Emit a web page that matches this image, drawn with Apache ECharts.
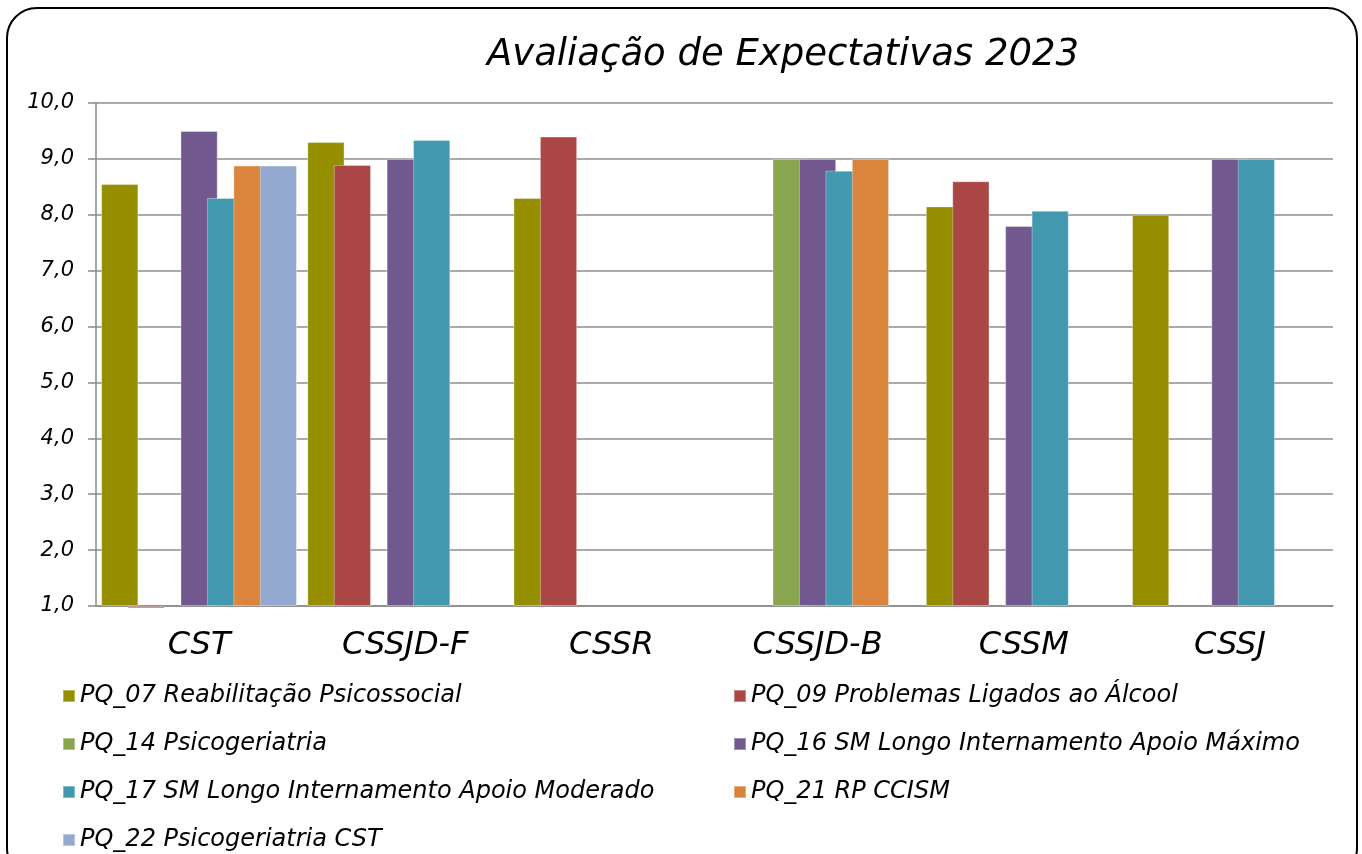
<!DOCTYPE html>
<html>
<head>
<meta charset="utf-8">
<script src="https://cdn.jsdelivr.net/npm/echarts@6/dist/echarts.min.js"></script>
<style>
  html, body { margin: 0; padding: 0; background: #fff; }
  #chart { width: 1362px; height: 854px; }
</style>
</head>
<body>
<div id="chart"></div>
<script>
// categorias e valores
var categorias = ['CST', 'CSSJD-F', 'CSSR', 'CSSJD-B', 'CSSM', 'CSSJ'];
var nomes = [
    'PQ_07 Reabilitação Psicossocial',
    'PQ_09 Problemas Ligados ao Álcool',
    'PQ_14 Psicogeriatria',
    'PQ_16 SM Longo Internamento Apoio Máximo',
    'PQ_17 SM Longo Internamento Apoio Moderado',
    'PQ_21 RP CCISM',
    'PQ_22 Psicogeriatria CST'
];
var pq07 = [8.55, 9.30, 8.30, '-', 8.15, 8.00];
var pq09 = [0.96, 8.89, 9.40, '-', 8.60, '-'];
var pq14 = ['-', '-', '-', 9.00, '-', '-'];
var pq16 = [9.50, 9.00, '-', 9.00, 7.80, 9.00];
var pq17 = [8.30, 9.34, '-', 8.79, 8.07, 9.00];
var pq21 = [8.88, '-', '-', 9.00, '-', '-'];
var pq22 = [8.88, '-', '-', '-', '-', '-'];
var cores = ['#958F00', '#AA4643', '#89A54E', '#71588F', '#4198AF', '#DB843D', '#93A9CF'];
var valores = [pq07, pq09, pq14, pq16, pq17, pq21, pq22];

var fonte = '"DejaVu Sans", sans-serif';

var myChart = echarts.init(document.getElementById('chart'));

let series = [];
for (let i = 0; i < nomes.length; i++) {
    series.push({
        name: nomes[i],
        type: 'bar',
        data: valores[i],
        clip: false,
        barGap: '-29%',
        barCategoryGap: '5%',
        itemStyle: {
            color: cores[i],
            borderColor: 'rgba(255,255,255,0.35)',
            borderWidth: 1
        }
    });
}

var legendaTexto = {
    fontFamily: fonte,
    fontStyle: 'italic',
    fontSize: 24,
    color: '#000',
    lineHeight: 24
};

var option = {
    animation: false,
    title: {
        text: 'Avaliação de Expectativas 2023',
        left: 778,
        textAlign: 'center',
        top: 32,
        textStyle: {
            fontFamily: fonte,
            fontStyle: 'italic',
            fontWeight: 'normal',
            fontSize: 37,
            color: '#000'
        }
    },
    legend: [{
        orient: 'vertical',
        left: 62,
        top: 684,
        height: 200,
        padding: 0,
        itemWidth: 12,
        itemHeight: 12,
        itemGap: 24,
        icon: 'rect',
        data: [nomes[0], nomes[2], nomes[4], nomes[6]],
        textStyle: legendaTexto
    }, {
        orient: 'vertical',
        left: 733,
        top: 684,
        height: 200,
        padding: 0,
        itemWidth: 12,
        itemHeight: 12,
        itemGap: 24,
        icon: 'rect',
        data: [nomes[1], nomes[3], nomes[5]],
        textStyle: legendaTexto
    }],
    grid: {
        left: 96,
        right: 29,
        top: 103,
        bottom: 248
    },
    xAxis: {
        type: 'category',
        data: categorias,
        axisLine: { lineStyle: { color: '#8A8A8A', width: 1.5 } },
        axisTick: { length: 10, lineStyle: { color: '#8A8A8A', width: 1.5 } },
        axisLabel: {
            margin: 24,
            fontFamily: fonte,
            fontStyle: 'italic',
            fontSize: 32,
            color: '#000'
        }
    },
    yAxis: {
        type: 'value',
        min: 1,
        max: 10,
        interval: 1,
        startValue: 1,
        axisLine: { show: true, lineStyle: { color: '#8A8A8A', width: 1.5 } },
        axisTick: { show: true, length: 8, lineStyle: { color: '#8A8A8A', width: 1.5 } },
        splitLine: { lineStyle: { color: '#8E8E8E', width: 1.5 } },
        axisLabel: {
            margin: 22,
            fontFamily: fonte,
            fontStyle: 'italic',
            fontSize: 21,
            color: '#000',
            formatter: function (v) { return v.toFixed(1).replace('.', ','); }
        }
    },
    graphic: [{
        type: 'rect',
        shape: { x: 7, y: 8, width: 1350, height: 870, r: 30 },
        style: { fill: 'none', stroke: '#000', lineWidth: 2 },
        silent: true
    }],
    series: series
};

myChart.setOption(option);
</script>
</body>
</html>
